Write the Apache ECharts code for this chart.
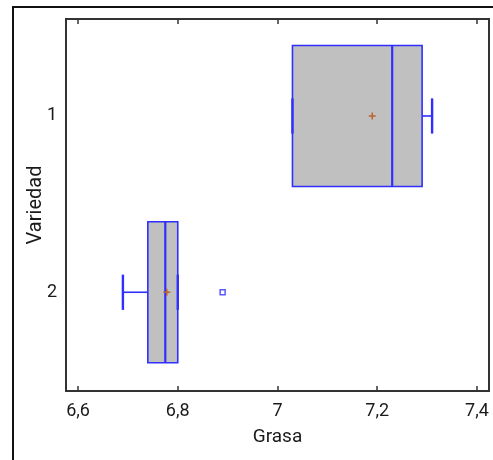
<!DOCTYPE html>
<html>
<head>
<meta charset="utf-8">
<script src="https://cdn.jsdelivr.net/npm/echarts@6/dist/echarts.min.js"></script>
<style>
html,body{margin:0;padding:0;background:#fff;}
#chart{width:493px;height:460px;}
</style>
</head>
<body>
<div id="chart"></div>
<script>
// ---- data ----
const categories = ['1', '2'];
const q1Values = [7.03, 6.74];
const medianValues = [7.23, 6.775];
const q3Values = [7.29, 6.80];
const whiskerLow = [7.03, 6.69];
const whiskerHigh = [7.31, 6.80];
const meanValues = [7.19, 6.778];
const outlierValues = [6.89];
const outlierCategory = ['2'];
const xTickValues = [6.6, 6.8, 7.0, 7.2, 7.4];
const xTickLabels = ['6,6', '6,8', '7', '7,2', '7,4'];

const BLUE = '#2f2fff';
const FONT = 'Roboto';

const boxData = categories.map((c, i) => [i + 1, q1Values[i], medianValues[i], q3Values[i], whiskerLow[i], whiskerHigh[i]]);
const meanData = categories.map((c, i) => [meanValues[i], i + 1]);
const outlierData = outlierValues.map((v, i) => [v, categories.indexOf(outlierCategory[i]) + 1]);

const chart = echarts.init(document.getElementById('chart'), null, {renderer: 'canvas'});

function renderBox(params, api) {
  const y = api.value(0);
  const q1 = api.value(1), med = api.value(2), q3 = api.value(3), lo = api.value(4), hi = api.value(5);
  const halfBox = Math.abs(api.size([0, 0.4])[1]);
  const halfCap = Math.abs(api.size([0, 0.1])[1]);
  const pQ1 = api.coord([q1, y]);
  const pQ3 = api.coord([q3, y]);
  const pMed = api.coord([med, y]);
  const pLo = api.coord([lo, y]);
  const pHi = api.coord([hi, y]);
  const cy = pQ1[1];
  const lineStyle = {stroke: BLUE, lineWidth: 1.6, fill: null};
  return {
    type: 'group',
    children: [
      {type: 'rect', shape: {x: pQ1[0], y: cy - halfBox, width: pQ3[0] - pQ1[0], height: 2 * halfBox},
       style: {fill: '#c0c0c0', stroke: BLUE, lineWidth: 1.6}},
      {type: 'line', shape: {x1: pMed[0], y1: cy - halfBox, x2: pMed[0], y2: cy + halfBox},
       style: {stroke: BLUE, lineWidth: 2.2}},
      {type: 'line', shape: {x1: pLo[0], y1: cy, x2: pQ1[0], y2: cy}, style: lineStyle},
      {type: 'line', shape: {x1: pQ3[0], y1: cy, x2: pHi[0], y2: cy}, style: lineStyle},
      {type: 'line', shape: {x1: pLo[0], y1: cy - halfCap, x2: pLo[0], y2: cy + halfCap}, style: {stroke: BLUE, lineWidth: 2.4}},
      {type: 'line', shape: {x1: pHi[0], y1: cy - halfCap, x2: pHi[0], y2: cy + halfCap}, style: {stroke: BLUE, lineWidth: 2.4}}
    ]
  };
}

function renderMean(params, api) {
  const p = api.coord([api.value(0), api.value(1)]);
  const s = 3.5;
  const st = {stroke: '#b8642e', lineWidth: 1.5};
  return {
    type: 'group',
    children: [
      {type: 'line', shape: {x1: p[0] - s, y1: p[1], x2: p[0] + s, y2: p[1]}, style: st},
      {type: 'line', shape: {x1: p[0], y1: p[1] - s, x2: p[0], y2: p[1] + s}, style: st}
    ]
  };
}

const xCommon = {
  type: 'value',
  min: 6.5759,
  max: 7.4241,
  splitLine: {show: false},
  axisLine: {show: false}
};

chart.setOption({
  animation: false,
  backgroundColor: '#fff',
  grid: {
    left: 66, top: 19, width: 423, height: 372,
    show: true, borderColor: '#333', borderWidth: 2, backgroundColor: 'transparent'
  },
  graphic: [{
    type: 'polyline',
    shape: {points: [[13, 462], [13, 7], [495, 7]]},
    style: {stroke: '#111', lineWidth: 2, fill: null}
  }],
  xAxis: [
    Object.assign({}, xCommon, {
      position: 'bottom',
      name: 'Grasa',
      nameLocation: 'middle',
      nameGap: 37,
      nameMoveOverlap: false,
      nameTextStyle: {fontFamily: FONT, fontSize: 19, color: '#1a1a1a'},
      axisTick: {show: true, inside: true, length: 5, customValues: xTickValues, lineStyle: {color: '#333', width: 1.5}},
      axisLabel: {
        show: true, margin: 11, customValues: xTickValues,
        fontFamily: FONT, fontSize: 18, color: '#1a1a1a',
        formatter: v => { const i = xTickValues.findIndex(t => Math.abs(t - v) < 1e-6); return i >= 0 ? xTickLabels[i] : ''; }
      }
    }),
    Object.assign({}, xCommon, {
      position: 'top',
      axisTick: {show: true, inside: true, length: 5, customValues: xTickValues, lineStyle: {color: '#333', width: 1.5}},
      axisLabel: {show: false}
    })
  ],
  yAxis: {
    type: 'value',
    inverse: true,
    min: 0.45,
    max: 2.56,
    name: 'Variedad',
    nameLocation: 'middle',
    nameGap: 20,
    nameMoveOverlap: false,
    nameTextStyle: {fontFamily: FONT, fontSize: 20, color: '#1a1a1a'},
    splitLine: {show: false},
    axisLine: {show: false},
    axisTick: {show: false},
    axisLabel: {
      customValues: [1, 2],
      margin: 9,
      fontFamily: FONT, fontSize: 18, color: '#1a1a1a',
      formatter: v => categories[Math.round(v) - 1] || ''
    }
  },
  series: [
    {type: 'custom', xAxisIndex: 0, renderItem: renderBox, data: boxData, encode: {x: [1, 2, 3, 4, 5], y: 0}, z: 2},
    {type: 'custom', xAxisIndex: 0, renderItem: renderMean, data: meanData, encode: {x: 0, y: 1}, z: 3},
    {type: 'scatter', xAxisIndex: 0, data: outlierData, symbol: 'rect', symbolSize: 5,
     itemStyle: {color: '#fff', borderColor: BLUE, borderWidth: 1.5}, z: 3}
  ]
});
</script>
</body>
</html>
